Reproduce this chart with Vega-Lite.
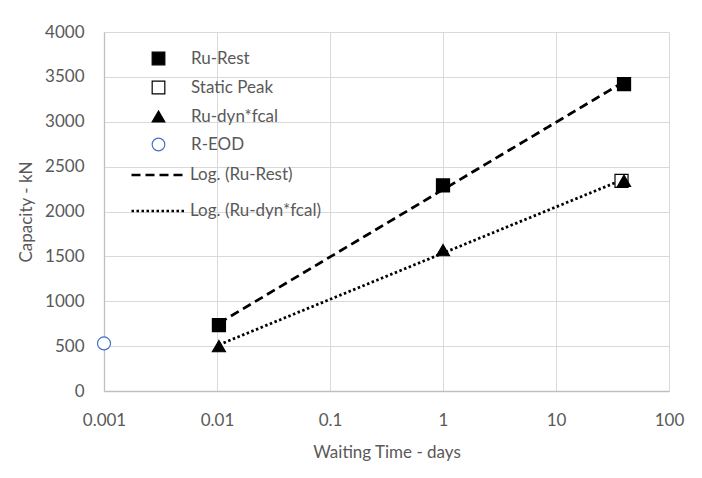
{
  "$schema": "https://vega.github.io/schema/vega-lite/v6.json",
  "width": 565,
  "height": 359,
  "autosize": {"type": "none"},
  "padding": {"left": 104, "top": 32, "right": 33, "bottom": 87},
  "background": "white",
  "config": {
    "font": "Lato",
    "view": {"stroke": null},
    "axis": {
      "labelFont": "Lato", "labelFontSize": 17, "labelColor": "#595959", "labelFlush": false,
      "titleFont": "Lato", "titleFontSize": 17, "titleColor": "#595959", "titleFontWeight": "normal",
      "gridColor": "#D9D9D9", "gridWidth": 1, "domainColor": "#BFBFBF", "domainWidth": 1.3,
      "ticks": false, "tickSize": 0
    },
    "legend": {
      "orient": "none", "legendX": 46, "legendY": 18, "padding": 0,
      "labelFont": "Lato", "labelFontSize": 17, "labelColor": "#595959", "labelOffset": 24,
      "rowPadding": 10, "symbolSize": 160, "symbolStrokeWidth": 1.2
    }
  },
  "data": {
    "values": [
      {"series": "Ru-Rest", "trend": "Log. (Ru-Rest)", "t": 0.0104, "cap": 735},
      {"series": "Ru-Rest", "trend": "Log. (Ru-Rest)", "t": 1, "cap": 2290},
      {"series": "Ru-Rest", "trend": "Log. (Ru-Rest)", "t": 40, "cap": 3420},
      {"series": "Static Peak", "t": 38, "cap": 2342},
      {"series": "Ru-dyn*fcal", "trend": "Log. (Ru-dyn*fcal)", "t": 0.0104, "cap": 500},
      {"series": "Ru-dyn*fcal", "trend": "Log. (Ru-dyn*fcal)", "t": 1, "cap": 1570},
      {"series": "Ru-dyn*fcal", "trend": "Log. (Ru-dyn*fcal)", "t": 40, "cap": 2342},
      {"series": "R-EOD", "t": 0.001, "cap": 530}
    ]
  },
  "layer": [
    {
      "transform": [
        {"filter": "datum.trend != null"},
        {"regression": "cap", "on": "t", "method": "log", "groupby": ["trend"]}
      ],
      "mark": {"type": "line", "color": "black", "strokeWidth": 2.75},
      "encoding": {
        "x": {"field": "t", "type": "quantitative", "scale": {"type": "log", "domain": [0.001, 100], "nice": false, "padding": 0}},
        "y": {"field": "cap", "type": "quantitative", "scale": {"domain": [0, 4000], "nice": false}},
        "strokeDash": {
          "field": "trend", "type": "nominal", "title": null,
          "scale": {"domain": ["Log. (Ru-Rest)", "Log. (Ru-dyn*fcal)"], "range": [[9, 5], [2.5, 2.5]]},
          "legend": {
            "orient": "none", "legendX": 26, "legendY": 115,
            "symbolType": "stroke", "symbolSize": 2809, "symbolStrokeWidth": 2.6,
            "symbolStrokeColor": "black", "labelOffset": 4, "rowPadding": 0
          }
        }
      }
    },
    {
      "mark": {"type": "point", "opacity": 1, "size": 170, "strokeWidth": 1.2},
      "encoding": {
        "x": {
          "field": "t", "type": "quantitative",
          "scale": {"type": "log", "domain": [0.001, 100], "nice": false, "padding": 0},
          "axis": {"values": [0.001, 0.01, 0.1, 1, 10, 100], "format": "~g", "title": "Waiting Time - days", "labelPadding": 21, "titlePadding": 16}
        },
        "y": {
          "field": "cap", "type": "quantitative",
          "scale": {"domain": [0, 4000], "nice": false},
          "axis": {"values": [0, 500, 1000, 1500, 2000, 2500, 3000, 3500, 4000], "format": "d", "title": "Capacity - kN", "labelPadding": 20, "titlePadding": 9}
        },
        "shape": {
          "field": "series", "type": "nominal", "title": null,
          "scale": {"domain": ["Ru-Rest", "Static Peak", "Ru-dyn*fcal", "R-EOD"],
                    "range": ["square", "square", "triangle-up", "circle"]}
        },
        "fill": {
          "field": "series", "type": "nominal", "title": null,
          "scale": {"domain": ["Ru-Rest", "Static Peak", "Ru-dyn*fcal", "R-EOD"],
                    "range": ["black", "white", "black", "white"]}
        },
        "stroke": {
          "field": "series", "type": "nominal", "title": null,
          "scale": {"domain": ["Ru-Rest", "Static Peak", "Ru-dyn*fcal", "R-EOD"],
                    "range": ["black", "black", "black", "#4472C4"]}
        }
      }
    }
  ]
}
